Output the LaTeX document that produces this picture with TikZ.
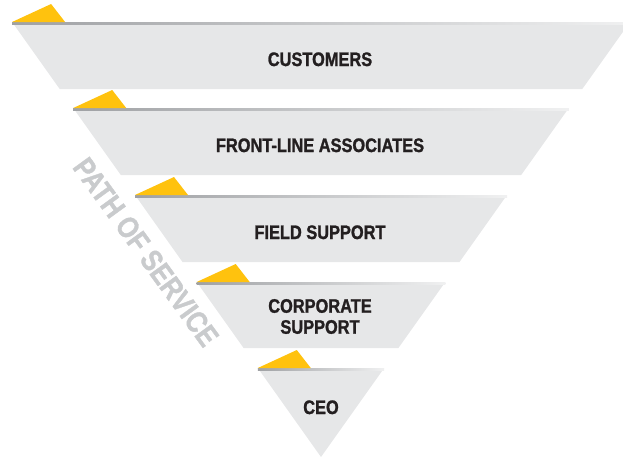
\documentclass[tikz,border=0pt]{standalone}
\usepackage{fontspec}
\newfontfamily\pyrfont{Liberation Sans}[FakeStretch=0.84, BoldFeatures={FakeBold=1.3}]
\definecolor{bandgray}{HTML}{E6E7E8}
\definecolor{edgegray}{HTML}{9FA1A4}
\definecolor{flagyellow}{HTML}{FFC20E}
\definecolor{inkdark}{HTML}{231F20}
\definecolor{pathgray}{HTML}{C9CBCD}
\tikzset{
  band/.style={fill=bandgray},
  topedge/.style={left color=edgegray, right color=bandgray!60},
  flag/.style={fill=flagyellow},
  bandtext/.style={text=inkdark, align=center,
    font=\pyrfont\bfseries\fontsize{19.5}{21}\selectfont},
  pathtext/.style={text=pathgray, font=\pyrfont\bfseries\fontsize{30}{32}\selectfont}
}
\begin{document}
\begin{tikzpicture}[x=1pt,y=-1pt]
  \useasboundingbox (0,0) rectangle (623,459);
  \clip (0,0) rectangle (623,459);
  % customers
  \fill[band] (12.1,22) -- (630,22) -- (582.3,89) -- (59.7,89) -- cycle;
  \shade[topedge] (12.1,22) rectangle (630,24);
  \fill[flag] (12.1,22) -- (65.1,22) -- (51.1,4) -- cycle;
  % front-line associates
  \fill[band] (73.2,108) -- (568.8,108) -- (521.2,175) -- (120.8,175) -- cycle;
  \shade[topedge] (73.2,108) rectangle (568.8,110);
  \fill[flag] (73.2,108) -- (126.2,108) -- (112.2,90) -- cycle;
  % field support
  \fill[band] (135,195) -- (507,195) -- (459.5,262) -- (182.5,262) -- cycle;
  \shade[topedge] (135,195) rectangle (507,197);
  \fill[flag] (135,195) -- (188,195) -- (174,177) -- cycle;
  % corporate support
  \fill[band] (196.7,282) -- (445.3,282) -- (398.4,348) -- (243.6,348) -- cycle;
  \shade[topedge] (196.7,282) rectangle (445.3,284);
  \fill[flag] (196.7,282) -- (249.7,282) -- (235.7,264) -- cycle;
  % ceo
  \fill[band] (257.8,368) -- (384.2,368) -- (321,457) -- cycle;
  \shade[topedge] (257.8,368) rectangle (384.2,370);
  \fill[flag] (257.8,368) -- (310.8,368) -- (296.8,350) -- cycle;

  \node[bandtext, anchor=base] (customers) at (320,66) {CUSTOMERS};
  \node[bandtext, anchor=base] (frontline) at (320,152) {FRONT-LINE ASSOCIATES};
  \node[bandtext, anchor=base] (field) at (320,239) {FIELD SUPPORT};
  \node[bandtext] (corporate) at (320,316.5) {CORPORATE\\SUPPORT};
  \node[bandtext, anchor=base] (ceo) at (321,414) {CEO};

  \node[pathtext, rotate=-54] (path) at (146,252) {PATH OF SERVICE};
\end{tikzpicture}
\end{document}
